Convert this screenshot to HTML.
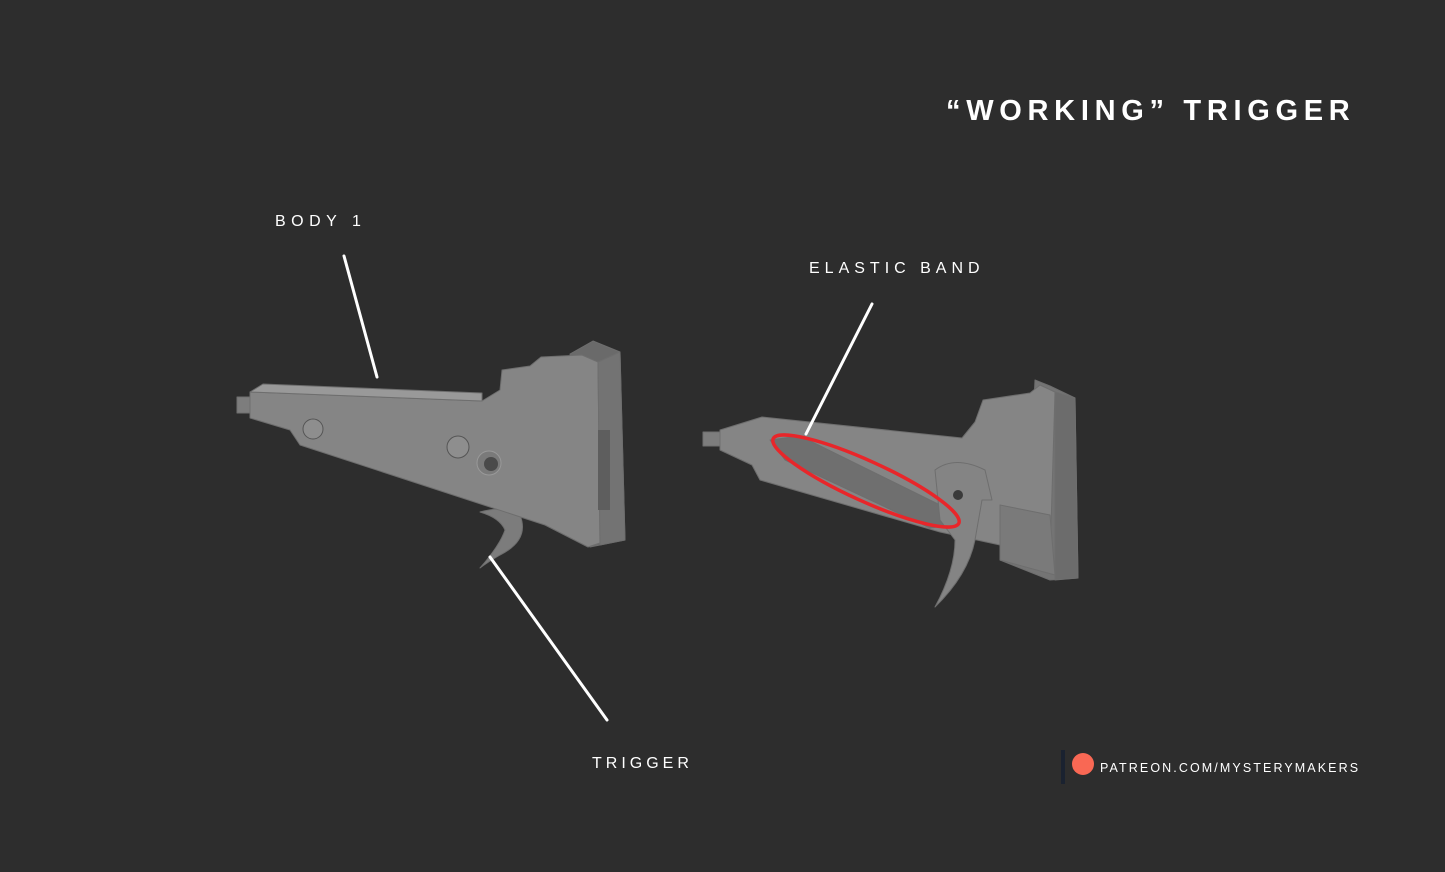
<!DOCTYPE html>
<html><head><meta charset="utf-8"><style>
html,body{margin:0;padding:0;background:#2d2d2d;}
svg{display:block}
text{font-family:"Liberation Sans",sans-serif;fill:#fff;}
</style></head><body>
<svg width="1445" height="872" viewBox="0 0 1445 872" xmlns="http://www.w3.org/2000/svg">
<rect width="1445" height="872" fill="#2d2d2d"/>
<text x="946" y="120" font-size="29" letter-spacing="5.7" font-weight="bold">“WORKING” TRIGGER</text>
<text x="275" y="226" font-size="16" letter-spacing="5.5">BODY 1</text>
<text x="809" y="273" font-size="16" letter-spacing="5">ELASTIC BAND</text>
<text x="592" y="768" font-size="16" letter-spacing="4">TRIGGER</text>

<!-- left part -->
<g stroke="#6e6e6e" stroke-width="1" stroke-linejoin="round">
<path d="M480 512 Q505 505 520 515 Q530 540 500 555 Q488 562 480 568 Q500 545 505 530 Q500 518 480 512Z" fill="#7c7c7c"/>
<rect x="237" y="397" width="16" height="16" fill="#7d7d7d"/>
<path d="M570 354 L593 341 L620 352 L625 540 L590 547Z" fill="#6a6a6a"/>
<path d="M250 392 L482 401 L500 390 L502 370 L530 366 L541 357 L582 355 L598 362 L600 543 L588 547 L545 525 L300 445 L290 430 L250 418Z" fill="#858585"/>
<path d="M250 392 L263 384 L482 393 L482 401Z" fill="#999"/>
<path d="M598 362 L620 352 L625 540 L600 545Z" fill="#737373"/>
<rect x="598" y="430" width="12" height="80" fill="#5e5e5e" stroke="none"/>
</g>
<circle cx="313" cy="429" r="10" fill="#8e8e8e" stroke="#555"/>
<circle cx="458" cy="447" r="11" fill="#8e8e8e" stroke="#555"/>
<circle cx="489" cy="463" r="12" fill="#7a7a7a" stroke="#999"/>
<circle cx="491" cy="464" r="7" fill="#4a4a4a"/>

<!-- right part -->
<g stroke="#6e6e6e" stroke-width="1" stroke-linejoin="round">
<path d="M1035 380 L1050 386 L1075 398 L1078 578 L1050 580 L1000 560 L1000 500 L1030 480Z" fill="#747474"/>
<rect x="703" y="432" width="20" height="14" fill="#7d7d7d"/>
<path d="M720 430 L762 417 L962 438 L975 422 L983 400 L1030 393 L1040 385 L1055 392 L1050 560 L1000 545 L940 532 L760 480 L752 465 L720 450Z" fill="#858585"/>
<path d="M1000 505 L1050 515 L1055 575 L1000 560Z" fill="#7a7a7a"/>
<path d="M1055 392 L1075 398 L1078 578 L1055 580Z" fill="#6c6c6c"/>
<path d="M770 440 L800 436 L940 505 L955 525 L930 528 L785 460Z" fill="#6f6f6f"/>
<path d="M935 470 Q955 455 985 470 L992 500 L982 500 L975 540 Q968 575 935 607 Q955 570 955 540 L940 520Z" fill="#848484"/>
</g>
<circle cx="958" cy="495" r="5" fill="#3a3a3a"/>
<ellipse cx="866" cy="481" rx="102" ry="20" transform="rotate(24.5 866 481)" fill="none" stroke="#e8262a" stroke-width="3.5"/>

<!-- leader lines -->
<g stroke="#fff" stroke-width="3" stroke-linecap="round">
<line x1="344" y1="256" x2="377" y2="377"/>
<line x1="872" y1="304" x2="806" y2="434"/>
<line x1="490" y1="557" x2="607" y2="720"/>
</g>

<!-- patreon -->
<rect x="1061" y="750" width="4" height="34" fill="#1a2230"/>
<circle cx="1083" cy="764" r="11" fill="#f96854"/>
<text x="1100" y="772" font-size="12.5" letter-spacing="2.1">PATREON.COM/MYSTERYMAKERS</text>
</svg>
</body></html>
